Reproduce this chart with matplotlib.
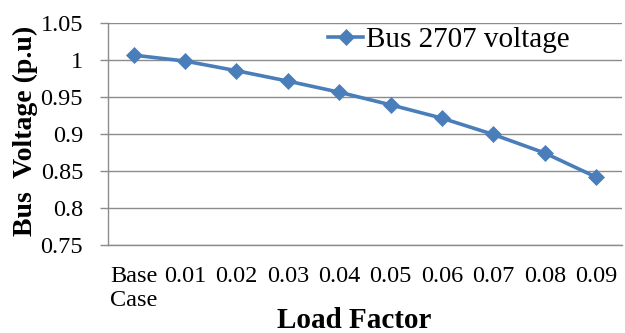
import numpy as np
import matplotlib
matplotlib.use("Agg")
import matplotlib.pyplot as plt

plt.rcParams['font.family'] = ['Liberation Serif', 'DejaVu Serif']

# 负荷系数与母线电压
load_labels = ['Base\nCase', '0.01', '0.02', '0.03', '0.04',
               '0.05', '0.06', '0.07', '0.08', '0.09']
bus_voltage = [1.006, 0.998, 0.985, 0.971, 0.956,
               0.939, 0.921, 0.899, 0.874, 0.8415]
y_ticks = [0.75, 0.8, 0.85, 0.9, 0.95, 1.0, 1.05]
series_name = 'Bus 2707 voltage'

line_color = '#4a7ebb'
grid_color = '#8c8c8c'
tick_font = {'family': 'Liberation Serif', 'size': 17.5}

fig = plt.figure(figsize=(6.25, 3.33), dpi=100)
ax = fig.add_axes([0.1728, 0.2643, 0.995 - 0.1728, 0.9324 - 0.2643])

x = np.arange(len(load_labels))
ax.plot(x, bus_voltage, color=line_color, lw=2.6, marker='D', ms=8.5,
        mec=line_color, mew=0.5, label=series_name, zorder=3)

ax.set_xlim(-0.5, len(load_labels) - 0.5)
ax.set_ylim(0.75, 1.05)
ax.set_yticks(y_ticks, [f'{v:g}' for v in y_ticks], fontdict=tick_font)
ax.set_xticks(x, load_labels, fontdict=tick_font, linespacing=1.2)
ax.tick_params(axis='x', length=0, pad=15)
ax.tick_params(axis='y', length=6, width=1, color=grid_color, pad=12)

ax.grid(axis='y', color=grid_color, lw=1)
ax.set_axisbelow(True)
for side in ['top', 'right']:
    ax.spines[side].set_visible(False)
for side in ['left', 'bottom']:
    ax.spines[side].set_color(grid_color)
    ax.spines[side].set_linewidth(1)

# 坐标轴标题
fig.text(354 / 625, 1 - 321 / 333, 'Load Factor', fontsize=21,
         fontweight='bold', ha='center', va='center')
fig.text(25 / 625, 1 - 131 / 333, 'Bus  Voltage (p.u)', fontsize=20,
         fontweight='bold', ha='center', va='center', rotation=90)

ax.legend(loc='center left', bbox_to_anchor=(328 / 625, 1 - 40 / 333),
          bbox_transform=fig.transFigure, frameon=False, fontsize=21,
          handlelength=1.2, handletextpad=0.1, borderpad=0,
          borderaxespad=0, numpoints=1)

fig.savefig('out.png', dpi=100)
